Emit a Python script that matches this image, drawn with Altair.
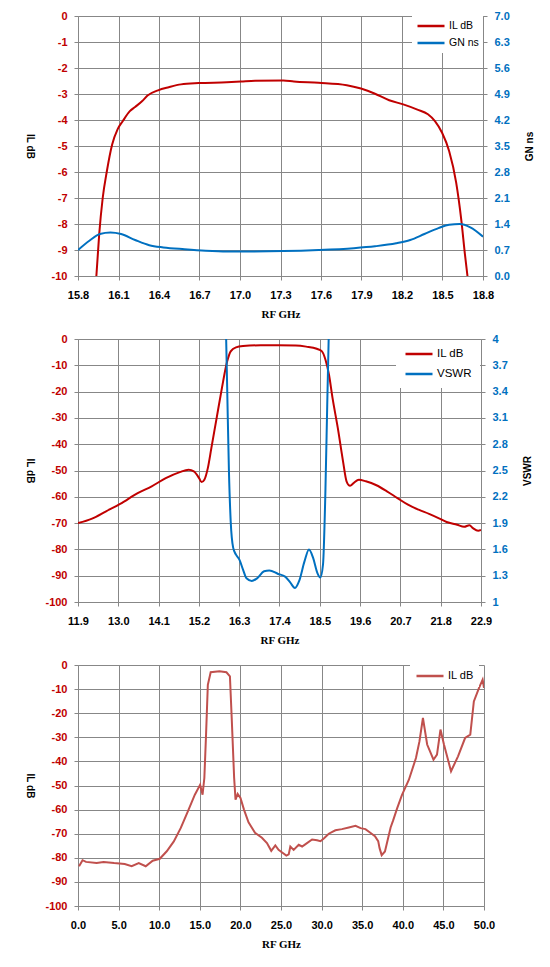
import altair as alt
import pandas as pd

RED = "#C00000"
BLUE = "#0070C0"
RED3 = "#C0504D"
GRID = "#878787"

# ---------------- Panel 1 ----------------
p1_il_f = [15.936, 15.957, 15.983, 16.014, 16.053, 16.093, 16.132, 16.184, 16.223, 16.276,
           16.315, 16.393, 16.472, 16.563, 16.694, 16.903, 17.007, 17.112, 17.321, 17.399,
           17.582, 17.791, 17.896, 18.000, 18.105, 18.209, 18.314, 18.392, 18.444, 18.497,
           18.549, 18.601, 18.640, 18.666, 18.685]
p1_il_v = [-10.0, -8.4, -7.0, -5.96, -4.94, -4.36, -4.04, -3.66, -3.5, -3.27,
           -3.06, -2.86, -2.74, -2.63, -2.58, -2.55, -2.52, -2.49, -2.48, -2.52,
           -2.57, -2.66, -2.79, -2.99, -3.24, -3.4, -3.6, -3.78, -4.04, -4.49,
           -5.19, -6.4, -7.88, -9.16, -10.0]
p1_gn_f = [15.8, 15.884, 15.962, 16.040, 16.119, 16.223, 16.328, 16.432, 16.589, 16.746,
           16.903, 17.060, 17.321, 17.582, 17.843, 18.0, 18.157, 18.261, 18.366, 18.47,
           18.549, 18.627, 18.706, 18.8]
p1_gn_v = [0.70, 0.95, 1.13, 1.17, 1.13, 0.97, 0.83, 0.77, 0.72, 0.68,
           0.66, 0.66, 0.67, 0.70, 0.75, 0.80, 0.88, 0.97, 1.13, 1.29,
           1.38, 1.40, 1.31, 1.06]
p1_x_ticks = [15.8, 16.1, 16.4, 16.7, 17.0, 17.3, 17.6, 17.9, 18.2, 18.5, 18.8]
p1_l_ticks = [0, -1, -2, -3, -4, -5, -6, -7, -8, -9, -10]
p1_r_ticks = [0.0, 0.7, 1.4, 2.1, 2.8, 3.5, 4.2, 4.9, 5.6, 6.3, 7.0]

# ---------------- Panel 2 ----------------
p2_il_f = [11.9, 12.283, 12.667, 13.05, 13.529, 13.912, 14.296, 14.679, 14.918, 15.062,
           15.206, 15.273, 15.349, 15.445, 15.541, 15.685, 15.829, 15.972, 16.068, 16.212,
           16.404, 16.883, 17.362, 17.841, 18.128, 18.416, 18.559, 18.655, 18.751, 18.847,
           18.991, 19.134, 19.230, 19.326, 19.422, 19.566, 19.757, 20.045, 20.332, 20.620,
           20.907, 21.195, 21.482, 21.769, 21.961, 22.249, 22.440, 22.584, 22.680, 22.823, 22.9]
p2_il_v = [-70.0, -68.3, -65.5, -62.7, -58.6, -56.0, -52.9, -50.6, -49.7, -50.3,
           -52.9, -54.4, -53.5, -49.0, -41.4, -30.0, -18.6, -8.5, -4.7, -3.2,
           -2.7, -2.4, -2.4, -2.5, -2.9, -3.7, -4.7, -7.9, -13.6, -22.4,
           -33.8, -46.5, -54.1, -55.8, -54.8, -53.5, -54.1, -55.6, -57.9, -60.5,
           -63.0, -64.9, -66.5, -68.3, -69.6, -70.6, -71.4, -70.8, -71.9, -72.9, -72.6]
p2_vs_f = [15.944, 15.972, 16.020, 16.068, 16.135, 16.212, 16.308, 16.404, 16.499, 16.643,
           16.787, 16.979, 17.122, 17.362, 17.553, 17.697, 17.822, 17.937, 18.080, 18.205,
           18.320, 18.435, 18.512, 18.588, 18.655, 18.703, 18.742]
p2_vs_v = [4.0, 3.44, 2.49, 1.92, 1.62, 1.54, 1.48, 1.37, 1.27, 1.24,
           1.27, 1.35, 1.36, 1.32, 1.29, 1.22, 1.16, 1.24, 1.46, 1.60,
           1.50, 1.33, 1.28, 1.43, 2.30, 3.25, 4.0]
p2_x_ticks = [11.9, 13.0, 14.1, 15.2, 16.3, 17.4, 18.5, 19.6, 20.7, 21.8, 22.9]
p2_l_ticks = [0, -10, -20, -30, -40, -50, -60, -70, -80, -90, -100]
p2_r_ticks = [1, 1.3, 1.6, 1.9, 2.2, 2.5, 2.8, 3.1, 3.4, 3.7, 4]

# ---------------- Panel 3 ----------------
p3_il_f = [0.13, 0.56, 0.99, 2.29, 3.15, 4.45, 5.75, 6.61, 7.48, 8.34,
           9.20, 10.07, 10.93, 11.80, 12.66, 13.53, 14.39, 15.04, 15.34, 15.56,
           15.77, 15.99, 16.34, 17.42, 18.28, 18.71, 18.93, 19.23, 19.40, 19.66,
           20.01, 20.44, 21.0, 21.8, 22.65, 23.27, 23.8, 24.3, 24.7, 25.1,
           25.66, 25.95, 26.15, 26.56, 27.18, 27.6, 28.2, 28.83, 29.44, 29.86,
           30.27, 30.88, 31.7, 32.5, 33.35, 34.18, 34.8, 35.4, 36.0, 36.57,
           36.97, 37.14, 37.4, 37.8, 38.1, 38.5, 38.8, 39.3, 39.89, 40.75,
           41.62, 42.05, 42.48, 43.0, 43.78, 44.21, 44.64, 45.07, 45.51, 45.94,
           46.80, 47.67, 48.31, 48.75, 49.39, 49.83, 50.0]
p3_il_v = [-83.5, -81.0, -81.7, -82.2, -81.7, -82.2, -82.6, -83.5, -82.2, -83.5,
           -81.2, -80.4, -77.3, -73.2, -67.6, -60.7, -53.8, -49.7, -53.8, -46.9,
           -28.9, -8.2, -3.0, -2.6, -3.0, -4.7, -22.0, -46.9, -55.9, -53.5,
           -55.2, -60.0, -65.3, -69.6, -71.7, -73.9, -77.1, -74.9, -76.7, -77.7,
           -79.1, -78.6, -75.3, -76.7, -74.6, -75.3, -73.9, -72.4, -72.7, -73.1,
           -72.0, -70.0, -68.6, -68.1, -67.4, -66.7, -67.7, -68.1, -69.6, -71.0,
           -73.1, -76.0, -78.9, -77.4, -73.1, -67.4, -64.6, -59.5, -54.0, -47.6,
           -38.6, -31.7, -22.0, -33.0, -39.3, -37.2, -26.8, -33.0, -38.6, -44.1,
           -37.9, -30.3, -28.9, -15.1, -9.5, -6.1, -9.5]
p3_x_ticks = [0, 5, 10, 15, 20, 25, 30, 35, 40, 45, 50]
p3_l_ticks = [0, -10, -20, -30, -40, -50, -60, -70, -80, -90, -100]


def frame(f, v, name):
    return pd.DataFrame({"f": f, "v": v, "s": name})


def xenc(domain, vals):
    return alt.X("f:Q", scale=alt.Scale(domain=domain, nice=False, zero=False),
                 axis=alt.Axis(values=vals, format=".1f", title="RF GHz", grid=True))


def left_axis(vals, h):
    return alt.Axis(values=vals, labelExpr="'' + datum.value", title="IL dB", orient="left",
                    labelColor=RED, titleAngle=90, titleX=-49, titleY=h / 2,
                    titleAlign="center", titleBaseline="middle", grid=True)


def right_axis(vals, title, h, fmt):
    return alt.Axis(values=vals, format=fmt, title=title, orient="right", labelColor=BLUE,
                    grid=False, labelPadding=7, titleAngle=270, titleX=46, titleY=h / 2,
                    titleAlign="center", titleBaseline="middle")


def legend(pad, rowpad, fs, off, **kw):
    return alt.Legend(title=None, offset=off, fillColor="white",
                      padding=pad, rowPadding=rowpad, symbolType="stroke", symbolSize=729,
                      symbolStrokeWidth=2.5, clipHeight=12, labelFont="Liberation Sans",
                      labelFontSize=fs, labelOffset=3, labelColor="black", **kw)


# Panel 1
H1, W1 = 260, 405
c1 = alt.Color("s:N", scale=alt.Scale(domain=["IL dB", "GN ns"], range=[RED, BLUE]),
               legend=legend(4, 5, 10.5, 0, orient="top-right"))
x1 = xenc([15.8, 18.8], p1_x_ticks)
a1 = alt.Chart(frame(p1_il_f, p1_il_v, "IL dB")).mark_line(
    strokeWidth=2, interpolate="monotone", clip=True).encode(
    x=x1, y=alt.Y("v:Q", scale=alt.Scale(domain=[-10, 0], nice=False), axis=left_axis(p1_l_ticks, H1)),
    color=c1)
b1 = alt.Chart(frame(p1_gn_f, p1_gn_v, "GN ns")).mark_line(
    strokeWidth=2, interpolate="monotone", clip=True).encode(
    x=x1, y=alt.Y("v:Q", scale=alt.Scale(domain=[0, 7], nice=False),
                  axis=right_axis(p1_r_ticks, "GN ns", H1, ".1f")),
    color=c1)
p1 = alt.layer(a1, b1).resolve_scale(y="independent").properties(width=W1, height=H1)

# Panel 2
H2, W2 = 263, 403
c2 = alt.Color("s:N", scale=alt.Scale(domain=["IL dB", "VSWR"], range=[RED, BLUE]),
               legend=legend(8, 8, 11.5, 1, orient="top-right"))
x2 = xenc([11.9, 22.9], p2_x_ticks)
a2 = alt.Chart(frame(p2_il_f, p2_il_v, "IL dB")).mark_line(
    strokeWidth=2, interpolate="monotone", clip=True).encode(
    x=x2, y=alt.Y("v:Q", scale=alt.Scale(domain=[-100, 0], nice=False), axis=left_axis(p2_l_ticks, H2)),
    color=c2)
b2 = alt.Chart(frame(p2_vs_f, p2_vs_v, "VSWR")).mark_line(
    strokeWidth=2, interpolate="monotone", clip=True).encode(
    x=x2, y=alt.Y("v:Q", scale=alt.Scale(domain=[1, 4], nice=False, zero=False),
                  axis=right_axis(p2_r_ticks, "VSWR", H2, "~g")),
    color=c2)
p2 = alt.layer(a2, b2).resolve_scale(y="independent").properties(width=W2, height=H2)

# Panel 3
H3, W3 = 241, 406
c3 = alt.Color("s:N", scale=alt.Scale(domain=["IL dB"], range=[RED3]),
               legend=legend(5, 5, 11, 0, orient="none", legendX=W3 - 74, legendY=0))
x3 = xenc([0, 50], p3_x_ticks)
p3 = alt.Chart(frame(p3_il_f, p3_il_v, "IL dB")).mark_line(
    strokeWidth=2, clip=True).encode(
    x=x3, y=alt.Y("v:Q", scale=alt.Scale(domain=[-100, 0], nice=False), axis=left_axis(p3_l_ticks, H3)),
    color=c3).properties(width=W3, height=H3)

chart = alt.vconcat(p1, p2, p3, spacing=14).resolve_scale(color="independent").resolve_legend(
    color="independent").properties(
    padding={"left": 16, "top": 2, "right": 4, "bottom": 4}
).configure_view(stroke=None).configure_axis(
    domainColor=GRID, gridColor=GRID, tickColor=GRID, tickSize=4, domainWidth=1, gridWidth=1,
    labelFont="Liberation Sans", labelFontWeight="bold", labelFontSize=11, labelColor="black",
    titleFont="Liberation Sans", titleFontWeight="bold", titleFontSize=10, titleColor="black",
    labelFlush=False, labelOverlap=False
).configure_axisY(labelPadding=7).configure_axisX(
    labelPadding=9, titleFont="Liberation Serif", titleFontSize=11, titlePadding=8
)

chart.save("out.html", embed_options={"renderer": "svg", "actions": False})
